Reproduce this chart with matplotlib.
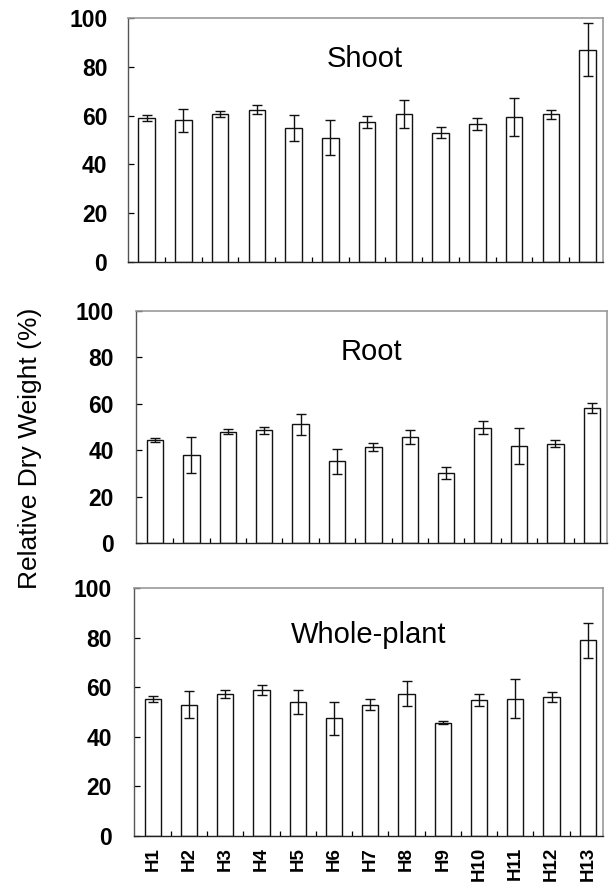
import matplotlib
matplotlib.use("Agg")
import matplotlib.pyplot as plt
from matplotlib.ticker import FixedLocator
import numpy as np

plt.rcParams['font.family'] = ['Liberation Sans', 'DejaVu Sans']

categories = ["H1", "H2", "H3", "H4", "H5", "H6", "H7", "H8", "H9", "H10", "H11", "H12", "H13"]

shoot_mean = [59.1, 58.0, 60.7, 62.5, 55.0, 51.0, 57.5, 60.5, 53.0, 56.5, 59.5, 60.5, 87.0]
shoot_err = [1.3, 4.8, 1.2, 1.8, 5.3, 7.1, 2.4, 5.7, 2.3, 2.5, 7.8, 2.0, 10.8]

root_mean = [44.4, 38.0, 48.0, 48.6, 51.1, 35.3, 41.3, 45.8, 30.1, 49.7, 41.8, 42.8, 58.2]
root_err = [0.9, 7.7, 1.1, 1.5, 4.5, 5.4, 1.6, 3.1, 2.6, 2.7, 7.9, 1.4, 2.1]

whole_mean = [55.3, 53.0, 57.2, 58.9, 54.0, 47.4, 53.0, 57.4, 45.6, 54.9, 55.4, 56.1, 78.9]
whole_err = [1.1, 5.5, 1.5, 1.9, 5.0, 6.7, 2.2, 5.0, 0.6, 2.5, 8.0, 1.9, 7.0]

panel_titles = ["Shoot", "Root", "Whole-plant"]
y_ticks = [0, 20, 40, 60, 80, 100]
y_label = "Relative Dry Weight (%)"

W, H = 610, 885
fig = plt.figure(figsize=(W / 100, H / 100), dpi=100)

# axes rectangles in pixels: left, right, top, bottom
rects = [(127.5, 603, 18, 262), (136, 607, 311, 543), (134, 603, 588, 836)]
title_y = [0.800, 0.789, 0.778]
ypads = [14.5, 16, 16]
series = [(shoot_mean, shoot_err), (root_mean, root_err), (whole_mean, whole_err)]

x = np.arange(len(categories))
for i, ((l, r, t, b), (m, e)) in enumerate(zip(rects, series)):
    ax = fig.add_axes([l / W, 1 - b / H, (r - l) / W, (b - t) / H])
    ax.bar(x, m, width=0.45, color='white', edgecolor='#111111', linewidth=1.0, zorder=2)
    ax.errorbar(x, m, yerr=e, fmt='none', ecolor='#111111', elinewidth=1.0,
                capsize=3.8, capthick=1.0, zorder=3)
    ax.set_xlim(-0.52, 12.42)
    ax.set_ylim(0, 100)
    ax.set_yticks(y_ticks)
    ax.set_yticklabels([str(v) for v in y_ticks], fontsize=16.5, fontweight='bold')
    ax.tick_params(axis='y', direction='in', length=4.5, width=0.9, pad=ypads[i], colors='black')
    ax.set_xticks(x)
    ax.xaxis.set_minor_locator(FixedLocator(x[:-1] + 0.5))
    ax.tick_params(axis='x', which='minor', direction='in', length=3.5, width=0.9, color='black')
    if i == 2:
        ax.set_xticklabels(categories, rotation=90, fontsize=13.5, fontweight='bold')
        ax.tick_params(axis='x', which='major', length=0, pad=8)
    else:
        ax.set_xticklabels([])
        ax.tick_params(axis='x', which='major', length=0)
    for side in ['top', 'right']:
        ax.spines[side].set_color('#999999')
        ax.spines[side].set_linewidth(1.2)
    ax.spines['left'].set_color('#555555')
    ax.spines['bottom'].set_color('#222222')
    ax.spines['left'].set_linewidth(1.0)
    ax.spines['bottom'].set_linewidth(1.0)
    ax.text(0.5, title_y[i], panel_titles[i], transform=ax.transAxes, ha='center',
            va='baseline', fontsize=21)

fig.text(30 / W, 1 - 448 / H, y_label, rotation=90, ha='center', va='center', fontsize=19)

fig.savefig("out.png", dpi=100)
